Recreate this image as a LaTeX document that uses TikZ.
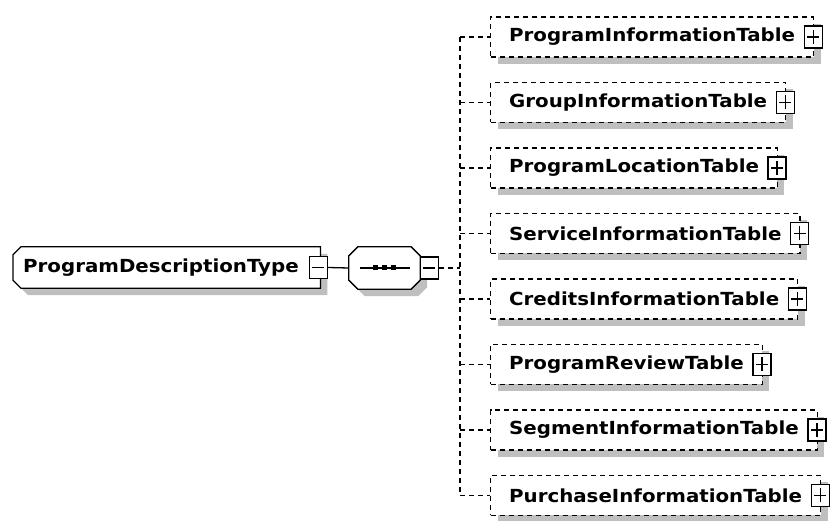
\documentclass[tikz,border=0pt]{standalone}
\usepackage{fontspec}
\newfontfamily\xsdfont[FakeStretch=1.1]{DejaVu Sans Bold}
\usetikzlibrary{shadows}
\pgfdeclarelayer{back}
\pgfsetlayers{back,main}

\newcommand\typeshape[3]{([shift={(#2+8pt,#3)}]#1.north west) -- ([shift={(#2,#3)}]#1.north east)
  -- ([shift={(#2,#3)}]#1.south east) -- ([shift={(#2+8pt,#3)}]#1.south west)
  -- ([shift={(#2,#3+8pt)}]#1.south west) -- ([shift={(#2,#3-8pt)}]#1.north west) -- cycle}
\newcommand\seqshape[3]{([shift={(#2+9pt,#3)}]#1.north west) -- ([shift={(#2-9pt,#3)}]#1.north east)
  -- ([shift={(#2,#3-9pt)}]#1.north east) -- ([shift={(#2,#3+9pt)}]#1.south east)
  -- ([shift={(#2-9pt,#3)}]#1.south east) -- ([shift={(#2+9pt,#3)}]#1.south west)
  -- ([shift={(#2,#3+9pt)}]#1.south west) -- ([shift={(#2,#3-9pt)}]#1.north west) -- cycle}

\tikzset{
  xsdshadow/.style={drop shadow={shadow xshift=7pt,shadow yshift=-7pt,fill=black!25,opacity=1}},
  xsdtext/.style={font=\xsdfont\fontsize{18}{20}\selectfont},
  typebox/.style={minimum height=41pt,inner xsep=10pt,text width=287pt,align=left,xsdtext},
  seqbox/.style={minimum width=71pt,minimum height=42pt,inner sep=0pt},
  outline/.style={draw,fill=white,line width=1.3pt},
  shadowfill/.style={fill=black!25},
  elembox/.style={draw,dash pattern=on 5pt off 4pt,fill=white,line width=1.3pt,minimum height=40pt,
    inner xsep=18.5pt,anchor=west,xsdtext,xsdshadow},
  pmbox/.style={draw,solid,fill=white,line width=1.3pt,minimum width=18pt,minimum height=22pt,inner sep=0pt},
  minusbox/.style={pmbox,path picture={\draw[line width=1.3pt]
    ([xshift=-6pt]path picture bounding box.center) -- ([xshift=6pt]path picture bounding box.center);}},
  plusbox/.style={pmbox,path picture={\draw[line width=1.3pt]
    ([xshift=-6pt]path picture bounding box.center) -- ([xshift=6pt]path picture bounding box.center)
    ([yshift=-7pt]path picture bounding box.center) -- ([yshift=7pt]path picture bounding box.center);}},
  link/.style={line width=1.3pt,dash pattern=on 5pt off 4pt}
}

\begin{document}
\begin{tikzpicture}[x=1pt,y=-1pt]
  \useasboundingbox (0,0) rectangle (831,521);
  \node[typebox,anchor=west] (pdt) at (13,267.5) {ProgramDescriptionType};
  \node[minusbox] (pdtm) at ([xshift=-2pt]pdt.east) {};
  \node[seqbox] (seq) at (384.5,268) {};
  \begin{pgfonlayer}{back}
    \fill[shadowfill] \typeshape{pdt}{7pt}{-7pt};
    \path[outline] \typeshape{pdt}{0pt}{0pt};
    \fill[shadowfill] \seqshape{seq}{7pt}{-7pt};
    \path[outline] \seqshape{seq}{0pt}{0pt};
  \end{pgfonlayer}
  \draw[line width=1.3pt] ([xshift=-25pt]seq.center) -- ([xshift=25pt]seq.center);
  \foreach \d in {-9,0,9}
    \fill ([xshift=\d pt]seq.center) +(-2.5,-2.5) rectangle +(2.5,2.5);
  \node[minusbox] (seqm) at ([xshift=9pt]seq.east) {};
  \draw[line width=1.3pt] (pdtm.east) -- (seq.west);
  \foreach \name [count=\i] in {ProgramInformationTable,GroupInformationTable,ProgramLocationTable,
      ServiceInformationTable,CreditsInformationTable,ProgramReviewTable,
      SegmentInformationTable,PurchaseInformationTable}{
    \node[elembox] (c\i) at (490,{37+65.5*(\i-1)}) {\name};
    \node[plusbox] (p\i) at ([xshift=-1pt]c\i.east) {};
  }
  \coordinate (fork) at (460,268);
  \draw[link] (seqm.east) -- (fork);
  \draw[link] (fork |- c1.west) -- (fork |- c8.west);
  \foreach \i in {1,...,8}
    \draw[link] (fork |- c\i.west) -- (c\i.west);
\end{tikzpicture}
\end{document}
